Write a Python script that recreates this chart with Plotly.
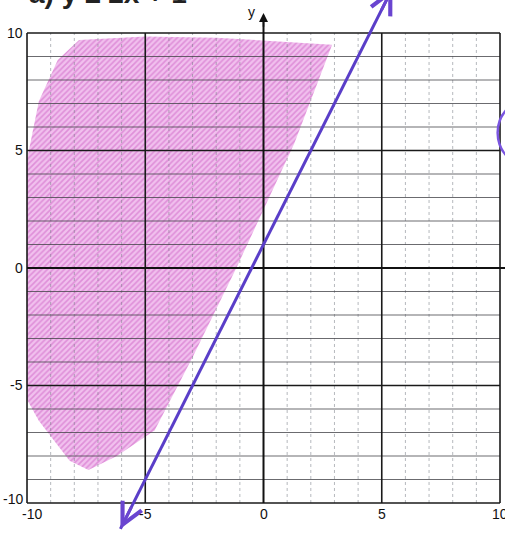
import plotly.graph_objects as go

# Graph of the inequality y >= 2x + 1 on a -10..10 grid
slope = 2
intercept = 1
line_x_ends = [-6.05, 5.45]

grid_ticks = list(range(-10, 11))
major_ticks = [-10, -5, 0, 5, 10]
tick_labels = ["-10", "-5", "0", "5", "10"]

# Outline of the hand-shaded region (above the boundary line)
shade_x = [-7.8, -5.0, -2.0, 2.9, 1.3, -1.15, -3.0, -4.6, -6.2, -7.4, -8.2, -9.5, -10.0, -10.0, -9.5, -8.7, -7.8]
shade_y = [9.7, 9.85, 9.8, 9.5, 5.3, 0.0, -3.8, -6.9, -8.0, -8.6, -8.2, -6.5, -5.6, 4.6, 7.1, 8.85, 9.7]

X_RANGE = [-11.142, 10.211]
Y_RANGE = [-11.277, 11.404]

FONT = "Liberation Sans, Arial"

fig = go.Figure()

def seg_trace(xs, ys, color, width, dash="solid"):
    return go.Scatter(x=xs, y=ys, mode="lines", hoverinfo="skip", showlegend=False,
                      line=dict(color=color, width=width, dash=dash))

# pencil shading
fig.add_trace(go.Scatter(
    x=shade_x, y=shade_y, mode="lines", fill="toself", showlegend=False, hoverinfo="skip",
    line=dict(width=0, color="rgba(0,0,0,0)"),
    fillcolor="rgba(220,110,212,0.55)",
    fillpattern=dict(shape="/", fgcolor="rgba(185,40,170,0.65)", bgcolor="rgba(232,150,226,0.6)",
                     size=4, solidity=0.4),
))

# minor grid lines
vx, vy, hx, hy = [], [], [], []
for t in grid_ticks:
    if t in major_ticks:
        continue
    vx += [t, t, None]
    vy += [-10, 10, None]
    hx += [-10, 10, None]
    hy += [t, t, None]
fig.add_trace(seg_trace(vx, vy, "rgba(120,125,135,0.55)", 1, "dot"))
fig.add_trace(seg_trace(hx, hy, "rgba(70,70,75,0.8)", 1.1))

# major grid lines and frame
mx, my = [], []
for t in major_ticks:
    if t == 0:
        continue
    mx += [t, t, None, -10, 10, None]
    my += [-10, 10, None, t, t, None]
fig.add_trace(seg_trace(mx, my, "#1a1a1a", 1.6))

# axes
fig.add_trace(seg_trace([-10, X_RANGE[1]], [0, 0], "#111", 2))
fig.add_trace(seg_trace([0, 0], [-10, 10.7], "#111", 2))

# boundary line y = 2x + 1
line_y_ends = [slope * x + intercept for x in line_x_ends]
fig.add_trace(go.Scatter(x=line_x_ends, y=line_y_ends, mode="lines", showlegend=False,
                         hoverinfo="skip", line=dict(color="#5a3ec8", width=3)))

annotations = []
# arrowheads on both ends of the line
for head_x, back in [(line_x_ends[0], 0.5), (line_x_ends[1], -0.5)]:
    tail_x = head_x + back
    annotations.append(dict(x=head_x, y=slope * head_x + intercept,
                            ax=tail_x, ay=slope * tail_x + intercept,
                            xref="x", yref="y", axref="x", ayref="y", text="", showarrow=True,
                            arrowhead=5, arrowsize=1.4, arrowwidth=3, arrowcolor="#6a45d0", standoff=0))
# y-axis arrow and label
annotations.append(dict(x=0, y=10.85, ax=0, ay=10.2, xref="x", yref="y", axref="x", ayref="y",
                        text="", showarrow=True, arrowhead=2, arrowsize=1.2, arrowwidth=1.5,
                        arrowcolor="#111", standoff=0))
annotations.append(dict(x=-0.5, y=10.9, xref="x", yref="y", text="y", showarrow=False,
                        font=dict(family=FONT, size=14, color="#111")))

# tick labels
for t, lab in zip(major_ticks, tick_labels):
    annotations.append(dict(x=-10.1, y=t + (0.15 if t == -10 else 0), xref="x", yref="y", text=lab,
                            showarrow=False, xanchor="right", yanchor="middle",
                            font=dict(family=FONT, size=14, color="#111")))
    annotations.append(dict(x=t + (0.2 if t == -10 else 0), y=-10.45, xref="x", yref="y", text=lab,
                            showarrow=False, xanchor="center", yanchor="middle",
                            font=dict(family=FONT, size=14, color="#111")))

# heading of the exercise
annotations.append(dict(x=27 / 505, y=1, xref="paper", yref="paper", text="<b>a) y ≥ 2x + 1</b>",
                        showarrow=False, xanchor="left", yanchor="bottom", yshift=-11,
                        font=dict(family=FONT, size=28, color="#222")))

fig.update_layout(
    width=505, height=533,
    margin=dict(l=0, r=0, t=0, b=0),
    paper_bgcolor="white", plot_bgcolor="white",
    xaxis=dict(range=X_RANGE, visible=False, fixedrange=True),
    yaxis=dict(range=Y_RANGE, visible=False, fixedrange=True),
    annotations=annotations,
    shapes=[dict(type="circle", xref="x", yref="y", x0=9.9, x1=12.3, y0=4.4, y1=7.1,
                 line=dict(color="#7a55e0", width=2.5))],
)

fig.write_html("out.html")
